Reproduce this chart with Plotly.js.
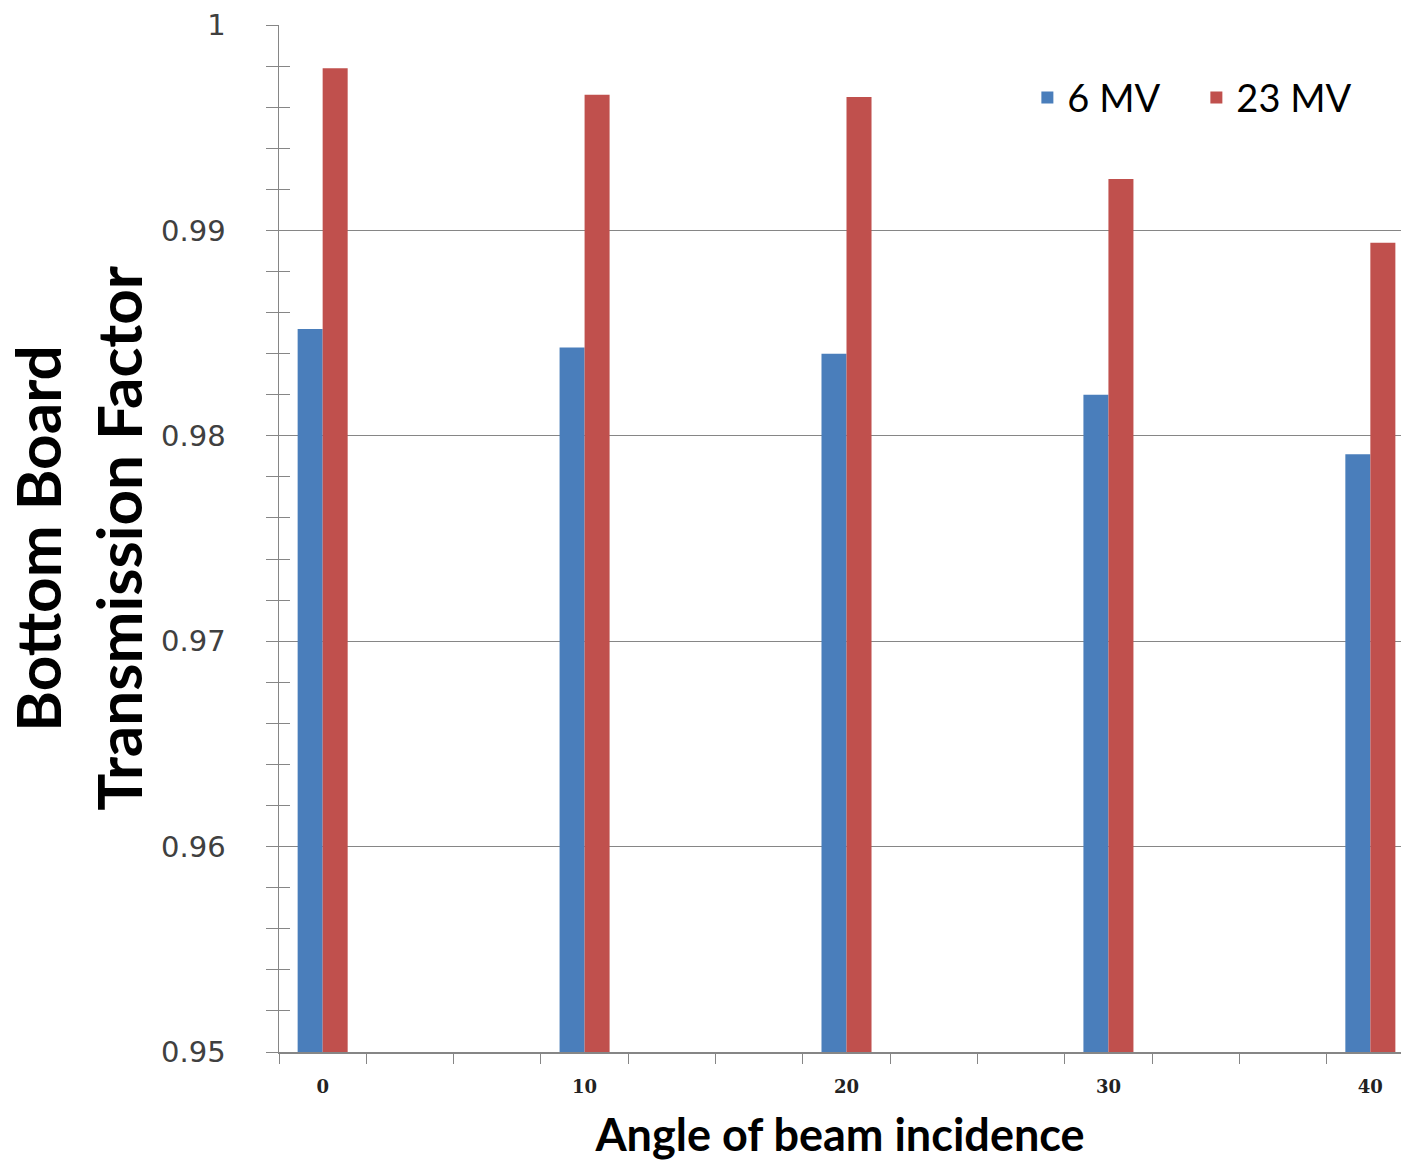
<!DOCTYPE html>
<html>
<head>
<meta charset="utf-8">
<script src="https://cdn.plot.ly/plotly-3.0.1.min.js"></script>
<style>html,body{margin:0;padding:0;background:#fff;}#chart{width:1401px;height:1161px;}</style>
</head>
<body>
<div id="chart"></div>
<script>
const angles = [0, 10, 20, 30, 40];
const mv6 = [0.9852, 0.9843, 0.9840, 0.9820, 0.9791];
const mv23 = [0.9979, 0.9966, 0.9965, 0.9925, 0.9894];
const seriesNames = ['6 MV', '23 MV'];
const yTickVals = [0.95, 0.96, 0.97, 0.98, 0.99, 1];
const yTickText = ['0.95', '0.96', '0.97', '0.98', '0.99', '1'];
const xTitle = 'Angle of beam incidence';
const yTitle = 'Bottom Board<br>Transmission Factor';

const axisGray = '#868686';
const yRange = [0.95, 1.0];

const traces = [
  {type: 'bar', x: angles, y: mv6, name: seriesNames[0],
   marker: {color: '#4A7EBB'}, yaxis: 'y'},
  {type: 'bar', x: angles, y: mv23, name: seriesNames[1],
   marker: {color: '#C0504D'}, yaxis: 'y'}
];

const layout = {
  width: 1401, height: 1161,
  margin: {l: 279, r: 0, t: 25, b: 109, pad: 0, autoexpand: false},
  paper_bgcolor: '#ffffff', plot_bgcolor: '#ffffff',
  barmode: 'group', bargap: 0.809, bargroupgap: 0,
  showlegend: true,
  legend: {orientation: 'h', x: 0.667, y: 0.929, xanchor: 'left', yanchor: 'middle',
    font: {family: 'Lato, sans-serif', size: 38, color: '#000'},
    bgcolor: 'rgba(0,0,0,0)', itemwidth: 30, entrywidth: 124, entrywidthmode: 'pixels'},
  xaxis: {
    type: 'linear', range: [-5/3, 41.17], fixedrange: true,
    tickmode: 'array', tickvals: angles, ticktext: angles.map(String),
    ticks: '', ticklabelstandoff: 18,
    tickfont: {family: 'DejaVu Serif, serif', size: 18, color: '#222', weight: 'bold'},
    showgrid: false, zeroline: false,
    showline: true, linecolor: axisGray, linewidth: 1.5,
    minor: {tick0: -5/3, dtick: 10/3, ticks: 'outside', ticklen: 10, tickcolor: axisGray, tickwidth: 1, showgrid: false},
    title: {text: xTitle, standoff: 24, font: {family: 'Lato, sans-serif', size: 45, color: '#000', weight: 'bold'}}
  },
  yaxis: {
    range: yRange, fixedrange: true,
    tickmode: 'array', tickvals: yTickVals, ticktext: yTickText,
    ticks: 'outside', ticklen: 12, tickcolor: axisGray, tickwidth: 1,
    ticklabelstandoff: 34,
    tickfont: {family: 'DejaVu Sans, sans-serif', size: 29, color: '#404040'},
    showgrid: true, gridcolor: axisGray, gridwidth: 1,
    zeroline: false, showline: true, linecolor: axisGray, linewidth: 1.5,
    minor: {dtick: 0.002, tick0: 0.95, ticks: 'outside', ticklen: 12, tickcolor: axisGray, tickwidth: 1, showgrid: false},
    title: {text: yTitle, standoff: 0, font: {family: 'Lato, sans-serif', size: 62, color: '#000', weight: 'bold'}}
  },
  yaxis2: {
    overlaying: 'y', side: 'left', anchor: 'x', range: yRange, fixedrange: true,
    tickmode: 'linear', tick0: 0.95, dtick: 0.002,
    ticks: 'inside', ticklen: 11, tickcolor: axisGray, tickwidth: 1,
    showticklabels: false, showgrid: false, zeroline: false, showline: false
  }
};

// invisible trace to activate the secondary axis for the inside tick marks
traces.push({type: 'scatter', x: [angles[0]], y: [yRange[0]], yaxis: 'y2', mode: 'none',
  showlegend: false, hoverinfo: 'skip'});

Plotly.newPlot('chart', traces, layout, {displayModeBar: false, staticPlot: true});
</script>
</body>
</html>
